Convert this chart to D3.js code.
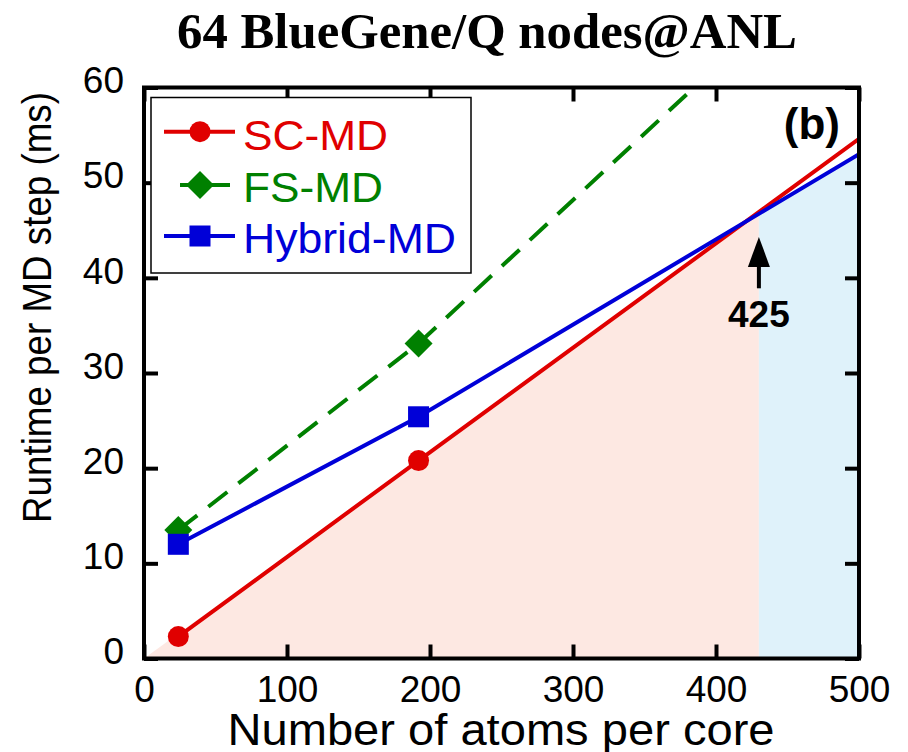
<!DOCTYPE html>
<html>
<head>
<meta charset="utf-8">
<script src="https://cdn.jsdelivr.net/npm/d3@7"></script>
<style>
  body { margin: 0; background: #fff; }
  svg { display: block; }
  text { font-family: "Liberation Sans", Arial, sans-serif; }
</style>
</head>
<body>
<div id="chart"></div>
<script>
const WIDTH = 908;
const HEIGHT = 752;

// data
const markerAtoms = [24, 192];
const lineAtoms = [24, 192, 500];
const scRuntime = [2.3, 20.8, 54.6];
const fsRuntime = [13.5, 33.1, 76.1];
const hybridRuntime = [12.0, 25.4, 53.0];

const pinkAtoms = [0, 430];
const pinkTop = [0, 46.9];
const blueAtoms = [430, 500];
const blueTop = [46.7, 53.0];

const crossover = 430;
const crossoverLabel = "425";
const arrowFrom = 38.9;
const arrowTo = 44.3;

const xTicks = [0, 100, 200, 300, 400, 500];
const yTicks = [0, 10, 20, 30, 40, 50, 60];

const seriesNames = ["SC-MD", "FS-MD", "Hybrid-MD"];
const seriesColors = ["#e00000", "#008000", "#0000d8"];
const seriesShapes = ["circle", "diamond", "square"];
const seriesLines = [scRuntime, fsRuntime, hybridRuntime];

const x = d3.scaleLinear().domain([0, 500]).range([144, 859]);
const y = d3.scaleLinear().domain([0, 60]).range([658.5, 87.5]);

const svg = d3.select("#chart")
    .append("svg")
    .attr("width", WIDTH)
    .attr("height", HEIGHT);

svg.append("defs").append("clipPath")
    .attr("id", "plot-clip")
    .append("rect")
    .attr("x", x(0))
    .attr("y", y(60))
    .attr("width", x(500) - x(0))
    .attr("height", y(0) - y(60));

const plot = svg.append("g").attr("clip-path", "url(#plot-clip)");

// shaded regions
let shadeArea = d3.area()
    .x(d => x(d[0]))
    .y0(y(0))
    .y1(d => y(d[1]));

plot.append("path")
    .attr("d", shadeArea(d3.zip(pinkAtoms, pinkTop)))
    .attr("fill", "#fde8e2");

plot.append("path")
    .attr("d", shadeArea(d3.zip(blueAtoms, blueTop)))
    .attr("fill", "#dff2fa");

// lines
let line = d3.line()
    .x(d => x(d[0]))
    .y(d => y(d[1]));

seriesLines.forEach((vals, i) => {
    plot.append("path")
        .attr("d", line(d3.zip(lineAtoms, vals)))
        .attr("fill", "none")
        .attr("stroke", seriesColors[i])
        .attr("stroke-width", 4)
        .attr("stroke-dasharray", i == 1 ? "24,14" : null);
});

function drawMarker(g, shape, cx, cy, color) {
    if (shape == "circle") {
        g.append("circle")
            .attr("cx", cx).attr("cy", cy).attr("r", 10.5)
            .attr("fill", color);
    } else if (shape == "square") {
        g.append("rect")
            .attr("x", cx - 10.5).attr("y", cy - 10.5)
            .attr("width", 21).attr("height", 21)
            .attr("fill", color);
    } else {
        let r = 14;
        g.append("path")
            .attr("d", `M${cx},${cy - r}L${cx + r},${cy}L${cx},${cy + r}L${cx - r},${cy}Z`)
            .attr("fill", color);
    }
}

// markers: FS first so hybrid square sits on top
[1, 0, 2].forEach(i => {
    markerAtoms.forEach((a, j) => {
        drawMarker(plot, seriesShapes[i], x(a), y(seriesLines[i][j]), seriesColors[i]);
    });
});

// axes, ticks pointing inward on all four sides
const TICK = 14;

let axisBottomG = svg.append("g")
    .attr("transform", `translate(0,${y(0)})`)
    .call(d3.axisBottom(x).tickValues(xTicks).tickSize(-TICK).tickPadding(17));
let axisTopG = svg.append("g")
    .attr("transform", `translate(0,${y(60)})`)
    .call(d3.axisTop(x).tickValues(xTicks).tickSize(-TICK).tickFormat(""));
let axisLeftG = svg.append("g")
    .attr("transform", `translate(${x(0)},0)`)
    .call(d3.axisLeft(y).tickValues(yTicks).tickSize(-TICK).tickPadding(20));
let axisRightG = svg.append("g")
    .attr("transform", `translate(${x(500)},0)`)
    .call(d3.axisRight(y).tickValues(yTicks).tickSize(-TICK).tickFormat(""));

[axisBottomG, axisTopG, axisLeftG, axisRightG].forEach(g => {
    g.select(".domain").remove();
    g.selectAll(".tick line").attr("stroke", "#000").attr("stroke-width", 4);
    g.selectAll("text")
        .attr("fill", "#000")
        .style("font-family", "'Liberation Sans', Arial, sans-serif")
        .style("font-size", "37px");
});
axisLeftG.selectAll("text").attr("dy", "0.14em");

svg.append("rect")
    .attr("x", x(0))
    .attr("y", y(60))
    .attr("width", x(500) - x(0))
    .attr("height", y(0) - y(60))
    .attr("fill", "none")
    .attr("stroke", "#000")
    .attr("stroke-width", 4);

// axis labels and title
svg.append("text")
    .attr("x", 501)
    .attr("y", 745)
    .attr("text-anchor", "middle")
    .attr("textLength", 547)
    .attr("lengthAdjust", "spacingAndGlyphs")
    .style("font-size", "44px")
    .text("Number of atoms per core");

svg.append("text")
    .attr("transform", "translate(51,307.5) rotate(-90)")
    .attr("text-anchor", "middle")
    .attr("textLength", 431)
    .attr("lengthAdjust", "spacingAndGlyphs")
    .style("font-size", "41px")
    .text("Runtime per MD step (ms)");

svg.append("text")
    .attr("x", 487)
    .attr("y", 48)
    .attr("text-anchor", "middle")
    .attr("textLength", 620)
    .attr("lengthAdjust", "spacingAndGlyphs")
    .style("font-family", "'Liberation Serif', 'Times New Roman', serif")
    .style("font-weight", "bold")
    .style("font-size", "50px")
    .text("64 BlueGene/Q nodes@ANL");

svg.append("text")
    .attr("x", 840)
    .attr("y", 138.7)
    .attr("text-anchor", "end")
    .style("font-weight", "bold")
    .style("font-size", "44px")
    .text("(b)");

// crossover arrow and label
let ax = x(crossover);
svg.append("line")
    .attr("x1", ax).attr("x2", ax)
    .attr("y1", y(arrowFrom)).attr("y2", y(arrowTo) + 20)
    .attr("stroke", "#000")
    .attr("stroke-width", 4);
svg.append("path")
    .attr("d", `M${ax},${y(arrowTo)}L${ax + 11},${y(arrowTo) + 30}L${ax - 11},${y(arrowTo) + 30}Z`)
    .attr("fill", "#000");
svg.append("text")
    .attr("x", ax)
    .attr("y", 326.7)
    .attr("text-anchor", "middle")
    .style("font-weight", "bold")
    .style("font-size", "37px")
    .text(crossoverLabel);

// legend
let legend = svg.append("g");
legend.append("rect")
    .attr("x", 151)
    .attr("y", 97.5)
    .attr("width", 320)
    .attr("height", 175.5)
    .attr("fill", "#fff")
    .attr("stroke", "#000")
    .attr("stroke-width", 1.5);

const rowY = [131.7, 185, 236];
const rowBase = [150, 201.7, 253.3];
const rowTextLen = [145, 140, 213];

seriesNames.forEach((name, i) => {
    let x1 = i == 1 ? 180 : 164;
    let x2 = i == 1 ? 230 : 235;
    legend.append("line")
        .attr("x1", x1).attr("x2", x2)
        .attr("y1", rowY[i]).attr("y2", rowY[i])
        .attr("stroke", seriesColors[i])
        .attr("stroke-width", 4);
    drawMarker(legend, seriesShapes[i], 200, rowY[i], seriesColors[i]);
    legend.append("text")
        .attr("x", 243)
        .attr("y", rowBase[i])
        .attr("fill", seriesColors[i])
        .attr("textLength", rowTextLen[i])
        .attr("lengthAdjust", "spacingAndGlyphs")
        .style("font-size", "43px")
        .text(name);
});
</script>
</body>
</html>
